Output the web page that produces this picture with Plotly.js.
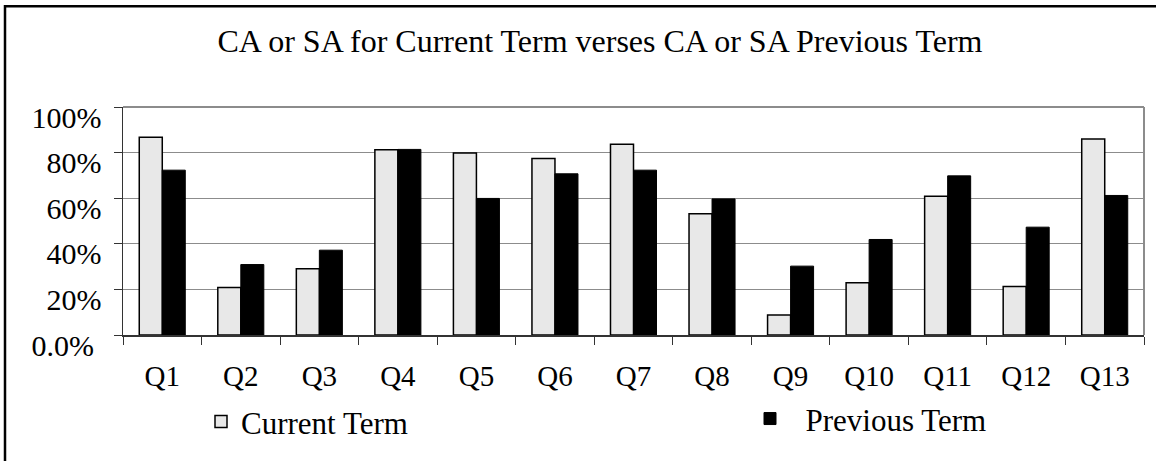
<!DOCTYPE html>
<html>
<head>
<meta charset="utf-8">
<script src="https://cdn.plot.ly/plotly-3.0.1.min.js"></script>
<style>html,body{margin:0;padding:0;background:#fff;}#chart{width:1156px;height:461px;}</style>
</head>
<body>
<div id="chart"></div>
<script>
const categories = ["Q1","Q2","Q3","Q4","Q5","Q6","Q7","Q8","Q9","Q10","Q11","Q12","Q13"];
const currentTerm = [0.867, 0.208, 0.291, 0.813, 0.798, 0.774, 0.837, 0.532, 0.088, 0.229, 0.609, 0.213, 0.860];
const previousTerm = [0.723, 0.309, 0.372, 0.814, 0.599, 0.707, 0.723, 0.597, 0.302, 0.419, 0.698, 0.473, 0.612];
const yTickVals = [0, 0.2, 0.4, 0.6, 0.8, 1.0];
const yTickText = ["0.0%\u00A0", "20%", "40%", "60%", "80%", "100%"];
const seriesNames = ["Current Term", "\u00A0\u00A0Previous Term"];
const titleText = "CA or SA for Current Term verses CA or SA Previous Term";

const serif = "Liberation Serif";

const traces = [
  {
    type: "bar", x: categories, y: currentTerm, name: seriesNames[0],
    marker: {color: "#e8e8e8", line: {color: "#000", width: 1.5}},
    legend: "legend"
  },
  {
    type: "bar", x: categories, y: previousTerm, name: seriesNames[1],
    marker: {color: "#000", line: {color: "#000", width: 1}},
    legend: "legend2"
  }
];

const L = 123, R = 12, T = 107, B = 123;
const W = 1156, H = 461;
const pw = W - L - R, ph = H - T - B;
const px = v => (v - L) / pw;
const py = v => (H - B - v) / ph;

const layout = {
  width: W, height: H,
  margin: {l: L, r: R, t: T, b: B, pad: 0},
  paper_bgcolor: "#fff", plot_bgcolor: "#fff",
  barmode: "group", bargap: 0.414, bargroupgap: 0,
  title: {
    text: titleText, font: {family: serif, size: 32, color: "#000"},
    xref: "container", x: 600 / W, xanchor: "center",
    yref: "container", y: 1 - 41 / H, yanchor: "middle"
  },
  xaxis: {
    type: "category",
    showgrid: false, showline: true, linecolor: "#333", linewidth: 1.5,
    ticks: "outside", ticklen: 8, tickcolor: "#333", tickwidth: 1,
    tickson: "boundaries",
    tickfont: {family: serif, size: 29, color: "#000"},
    ticklabelstandoff: 15,
    zeroline: false, fixedrange: true
  },
  yaxis: {
    range: [0, 1], tickvals: yTickVals, ticktext: yTickText,
    showgrid: true, gridcolor: "#8c8c8c", gridwidth: 1,
    showline: true, linecolor: "#333", linewidth: 1.5,
    ticks: "outside", ticklen: 8, tickcolor: "#333", tickwidth: 1,
    tickfont: {family: serif, size: 30, color: "#000"},
    ticklabelstandoff: 6, ticklabelshift: 10,
    zeroline: false, fixedrange: true
  },
  showlegend: true,
  legend: {
    orientation: "h", x: px(201), xanchor: "left", y: py(426), yanchor: "middle",
    font: {family: serif, size: 31, color: "#000"}, bgcolor: "rgba(0,0,0,0)", borderwidth: 0
  },
  legend2: {
    orientation: "h", x: px(750), xanchor: "left", y: py(423), yanchor: "middle",
    font: {family: serif, size: 31, color: "#000"}, bgcolor: "rgba(0,0,0,0)", borderwidth: 0
  },
  shapes: [
    {type: "line", xref: "paper", yref: "paper", x0: 0, x1: 1, y0: 1, y1: 1, line: {color: "#8c8c8c", width: 2}},
    {type: "line", xref: "paper", yref: "paper", x0: 1, x1: 1, y0: 0, y1: 1, line: {color: "#8c8c8c", width: 2}},
    {type: "rect", xref: "paper", yref: "paper", x0: px(5), x1: px(1170), y0: py(5), y1: py(475), line: {color: "#000", width: 2.5}, fillcolor: "rgba(0,0,0,0)", layer: "above"}
  ]
};

Plotly.newPlot("chart", traces, layout, {displayModeBar: false, staticPlot: true});
</script>
</body>
</html>
